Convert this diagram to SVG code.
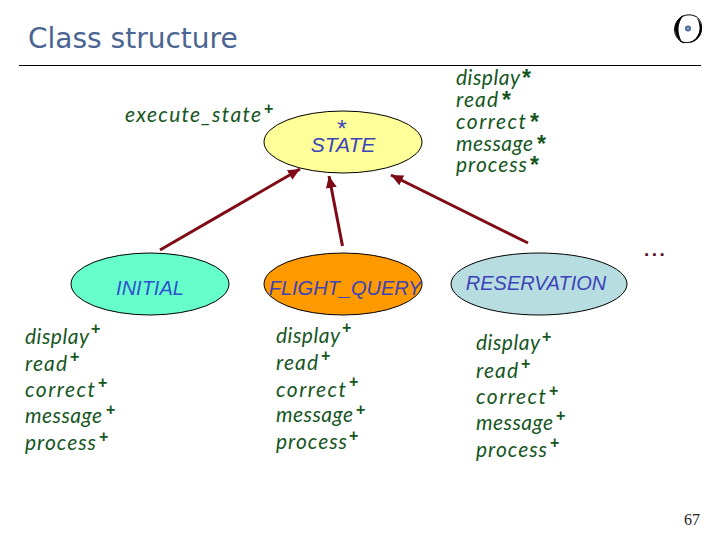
<svg xmlns="http://www.w3.org/2000/svg" width="720" height="540" viewBox="0 0 720 540">
<style>
.f{font-family:"Lato","Liberation Sans",sans-serif;font-style:italic;font-size:21px;fill:#17571f}
.p{font-family:"Liberation Sans",sans-serif;font-weight:bold;font-size:16px;fill:#17571f}
.s{font-family:"Liberation Sans",sans-serif;font-weight:bold;font-size:23px;fill:#17571f}
.n{font-family:"Liberation Sans",sans-serif;font-style:italic;font-size:20px;fill:#3c44b8;text-anchor:middle}
.e{stroke:#000;stroke-width:1}
.c{stroke:#7d0a14;stroke-width:3;fill:none;marker-end:url(#a)}
</style>
<defs>
<marker id="a" markerUnits="userSpaceOnUse" markerWidth="14" markerHeight="12" refX="12" refY="5.500" orient="auto"><path d="M0 0L12 5.500L0 11Z" fill="#7d0a14"/></marker>
<radialGradient id="d"><stop offset="0" stop-color="#8ea4d0"/><stop offset="1" stop-color="#3c5488"/></radialGradient>
</defs>
<rect width="720" height="540" fill="#fff"/>
<text x="28" y="47.500" font-family="DejaVu Sans,sans-serif" font-size="28" fill="#4a6591">Class structure</text>
<line x1="19" y1="65.500" x2="701" y2="65.500" stroke="#000" stroke-width="1"/>
<g id="logo">
<path d="M696 16.500C687 12 677 17 675 26C673 34 678 41 684 43M680 41C688 45 698 41 701 32C703 25 700 19 696 16.500" fill="none" stroke="#000" stroke-width="1"/>
<path d="M684 15C674 19 671 34 682 42C677 33 677 23 684 15ZM697 18C702 28 700 38 689 43C700 42 707 28 697 18Z" fill="#000"/>
<circle cx="688" cy="28.500" r="3" fill="url(#d)"/>
</g>
<g id="connectors">
<line class="c" x1="160" y1="250" x2="300" y2="169"/>
<line class="c" x1="342.500" y1="246" x2="329" y2="176"/>
<line class="c" x1="528" y1="243" x2="391" y2="175"/>
</g>
<g id="state">
<ellipse class="e" cx="343" cy="142" rx="79" ry="31" fill="#ffff99"/>
<text x="342" y="137" text-anchor="middle" font-family="Liberation Sans,sans-serif" font-size="24" fill="#3c44b8">*</text>
<text class="n" x="343" y="152" style="font-size:21px">STATE</text>
</g>
<g id="initial">
<ellipse class="e" cx="150" cy="284" rx="79" ry="31" fill="#66ffcc"/>
<text class="n" x="150" y="295" style="fill:#2f50d0">INITIAL</text>
</g>
<g id="flight">
<ellipse class="e" cx="343" cy="284" rx="79" ry="31" fill="#ff9900"/>
<text class="n" x="345" y="295">FLIGHT_QUERY</text>
</g>
<g id="reservation">
<ellipse class="e" cx="539" cy="284" rx="88" ry="31" fill="#b8dde0"/>
<text class="n" x="536" y="290">RESERVATION</text>
</g>
<g id="labels">
<text class="f" x="125" y="122" textLength="136">execute_state</text><text class="p" x="264" y="114">+</text>
<text class="f" x="456" y="85" textLength="64">display</text><text class="s" x="522" y="86">*</text>
<text class="f" x="456" y="107" textLength="42">read</text><text class="s" x="502" y="108">*</text>
<text class="f" x="456" y="129" textLength="70">correct</text><text class="s" x="530" y="130">*</text>
<text class="f" x="456" y="151" textLength="77">message</text><text class="s" x="537" y="152">*</text>
<text class="f" x="456" y="172" textLength="71">process</text><text class="s" x="530" y="173">*</text>
<text class="f" x="25" y="344" textLength="64">display</text><text class="p" x="91" y="334">+</text>
<text class="f" x="25" y="371" textLength="42">read</text><text class="p" x="70" y="362">+</text>
<text class="f" x="25" y="397" textLength="70">correct</text><text class="p" x="98" y="388">+</text>
<text class="f" x="25" y="423" textLength="77">message</text><text class="p" x="106" y="415">+</text>
<text class="f" x="25" y="450" textLength="71">process</text><text class="p" x="99" y="442">+</text>
<text class="f" x="276" y="343" textLength="64">display</text><text class="p" x="342" y="333">+</text>
<text class="f" x="276" y="370" textLength="42">read</text><text class="p" x="321" y="361">+</text>
<text class="f" x="276" y="397" textLength="70">correct</text><text class="p" x="349" y="387">+</text>
<text class="f" x="276" y="422" textLength="77">message</text><text class="p" x="356" y="415">+</text>
<text class="f" x="276" y="449" textLength="71">process</text><text class="p" x="349" y="441">+</text>
<text class="f" x="476" y="350" textLength="64">display</text><text class="p" x="542" y="342">+</text>
<text class="f" x="476" y="378" textLength="42">read</text><text class="p" x="521" y="369">+</text>
<text class="f" x="476" y="404" textLength="70">correct</text><text class="p" x="549" y="396">+</text>
<text class="f" x="476" y="430" textLength="77">message</text><text class="p" x="556" y="421">+</text>
<text class="f" x="476" y="457" textLength="71">process</text><text class="p" x="550" y="448">+</text>
<text x="644" y="256" font-family="Liberation Sans,sans-serif" font-weight="bold" font-size="19" fill="#5a0f1e" letter-spacing="2.500">...</text>
<text x="692" y="525" font-family="Liberation Serif,serif" font-size="16" fill="#222" text-anchor="middle">67</text>
</g>
</svg>
